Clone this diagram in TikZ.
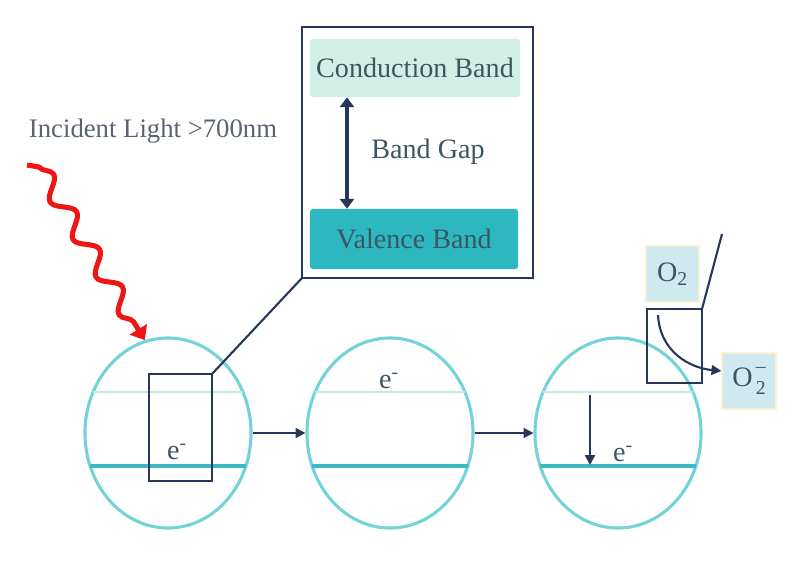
\documentclass[tikz,border=0pt]{standalone}
\usepackage{fontspec}
\setmainfont{Liberation Serif}
\usepackage{xcolor}
\usepackage{tikz}
\usetikzlibrary{arrows.meta,positioning,shapes.geometric,decorations.pathmorphing}

\definecolor{ringc}{HTML}{74D3D8}
\definecolor{cbline}{HTML}{C2E9DF}
\definecolor{vbline}{HTML}{3CB8C0}
\definecolor{cbfill}{HTML}{D2EFE6}
\definecolor{vbfill}{HTML}{2DB8C1}
\definecolor{navy}{HTML}{27375A}
\definecolor{labelc}{HTML}{3C5661}
\definecolor{graytext}{HTML}{5A6371}
\definecolor{ionfill}{HTML}{CFE9F0}
\definecolor{ionedge}{HTML}{FAF0D4}
\definecolor{raycol}{HTML}{EE1515}

\newcommand{\superoxide}{O\makebox[0pt][l]{\raisebox{1.05ex}{\fontsize{14}{14}\selectfont\,--}}\raisebox{-0.6ex}{\fontsize{14}{14}\selectfont\,2}}

\begin{document}
\begin{tikzpicture}
[x=0.025cm,y=-0.025cm,
ring/.style={ellipse,draw=ringc,line width=2.2pt,minimum width=4.15cm,minimum height=4.75cm,inner sep=0pt},
lbl/.style={text=labelc,font=\fontsize{20}{23}\selectfont},
zoombox/.style={rectangle,draw=navy,line width=1.5pt,outer sep=0pt},
flow/.style={-{Triangle[length=7pt,width=7pt]},draw=navy,line width=1.5pt},
band/.style={rectangle,rounded corners=2pt,text=labelc,font=\fontsize{20}{23}\selectfont},
ion/.style={rectangle,fill=ionfill,draw=ionedge,line width=1.5pt,text=labelc,font=\fontsize{20}{23}\selectfont,minimum width=1.33cm,minimum height=1.42cm},
ray/.style={draw=raycol,line width=3.6pt,line join=round,-{Triangle[length=9pt,width=14pt]}}]
\useasboundingbox (0,0) rectangle (800,564);

\node[ring] (c1) at (168,433) {};
\node[ring] (c2) at (390,433) {};
\node[ring] (c3) at (618,433) {};
\foreach \c in {c1,c2,c3}{
\draw[draw=cbline,line width=1.6pt] ([shift={(-75,-41)}]\c.center) -- ([shift={(75,-41)}]\c.center);
\draw[draw=vbline,line width=2.2pt] ([shift={(-78,33)}]\c.center) -- ([shift={(78,33)}]\c.center);
}
\draw[flow] (c1.east) -- (c2.west);
\draw[flow] (c2.east) -- (c3.west);

\node[lbl,anchor=west,text=graytext,font=\fontsize{19}{22}\selectfont] (inc) at (24,131) {Incident Light >700nm};
\coordinate (lsrc) at (27,165);
\draw[ray] (lsrc) -- ++(12,2) decorate[decoration={snake,amplitude=0.22cm,segment length=1.1cm,post length=0.35cm}] {-- (c1.104)};

\node[zoombox,minimum width=1.575cm,minimum height=2.675cm] (z1) at (180.5,427.5) {};
\node[zoombox,minimum width=5.775cm,minimum height=6.275cm] (zbig) at (417.5,152.5) {};
\draw[navy,line width=1.5pt] (z1.north east) -- (zbig.south west);
\node[band,fill=cbfill,minimum width=5.25cm,minimum height=1.45cm] (cb) at (415,68) {Conduction Band};
\node[band,fill=vbfill,minimum width=5.2cm,minimum height=1.5cm] (vb) at (414,239) {Valence Band};
\draw[navy,line width=3.5pt,{Triangle[length=7pt,width=10pt]}-{Triangle[length=7pt,width=10pt]}] ([xshift=-1.7cm]cb.south) -- ([xshift=-1.675cm]vb.north);
\node[lbl] (gap) at (428,152) {Band Gap};

\node[lbl] (e1) at (177,452) {e\textsuperscript{-}};
\node[lbl] (e2) at (389,381) {e\textsuperscript{-}};
\node[lbl] (e3) at (623,454) {e\textsuperscript{-}};
\coordinate (dtop) at (590,395);
\coordinate (dbot) at (590,465);
\draw[flow] (dtop) -- (dbot);

\node[zoombox,minimum width=1.375cm,minimum height=1.85cm] (z3) at (674.5,346) {};
\coordinate (zend) at (722,234);
\draw[navy,line width=1.5pt] (z3.north east) -- (zend);
\node[ion] (o2) at (672.5,274) {O\textsubscript{2}};
\node[ion] (o2m) at (749,381) {\superoxide};
\coordinate (o2src) at (658,315);
\draw[flow] (o2src) .. controls (660,352) and (690,368) .. (o2m.160);
\end{tikzpicture}
\end{document}
